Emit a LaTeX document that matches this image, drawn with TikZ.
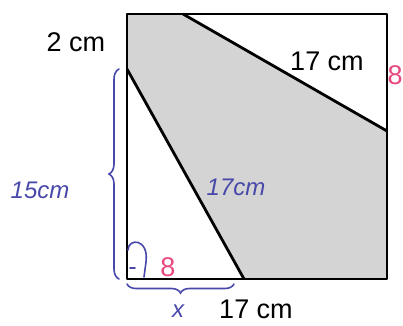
\documentclass[tikz,border=0pt]{standalone}
\usepackage{fontspec}
\setsansfont{Liberation Sans}
\usetikzlibrary{decorations.pathreplacing}
\definecolor{penblue}{RGB}{72,72,170}
\definecolor{penred}{RGB}{232,72,125}
\definecolor{papergray}{RGB}{212,212,212}
\tikzset{
  edge/.style={line width=2.8pt, line join=round},
  printed/.style={font=\sffamily\fontsize{27}{27}\selectfont},
  bluepen/.style={draw=penblue, line width=1.6pt, line cap=round},
  bluetext/.style={text=penblue, font=\sffamily\itshape\fontsize{24}{24}\selectfont},
  redtext/.style={text=penred, font=\sffamily\fontsize{27}{27}\selectfont}
}
\begin{document}
\begin{tikzpicture}[x=1pt, y=-1pt]
  \useasboundingbox (0,0) rectangle (403,325);
  % corners of the square
  \coordinate (tl) at (127,14);
  \coordinate (tr) at (387,14);
  \coordinate (br) at (387,279);
  \coordinate (bl) at (127,279);
  % cut points on the sides
  \coordinate (ptop) at (183,14);
  \coordinate (pright) at (387,131);
  \coordinate (pbottom) at (244,279);
  \coordinate (pleft) at (127,69);
  % shaded part
  \fill[papergray] (tl) -- (ptop) -- (pright) -- (br) -- (pbottom) -- (pleft) -- cycle;
  \draw[edge] (tl) rectangle (br);
  \draw[edge] (ptop) -- (pright);
  \draw[edge] (pleft) -- (pbottom);
  % printed labels
  \node[printed] (two) at (76,42) {2 cm};
  \node[printed] (hyptop) at (327,61) {17 cm};
  \node[printed] (side) at (256,309) {17 cm};
  % handwritten notes
  \draw[bluepen, decorate, decoration={brace, amplitude=10pt}] (119,279) -- (119,69);
  \draw[bluepen, decorate, decoration={brace, amplitude=9pt}] (234,284) -- (127,284);
  \node[bluetext] (fifteen) at (40,190) {15cm};
  \node[bluetext] (hyp) at (236,187) {17cm};
  \node[bluetext] (x) at (178,311) {x};
  \draw[bluepen] (128,250) .. controls (128,238) and (149,238) .. (146,262) -- (144,277);
  \draw[bluepen] (130,268) -- (135,268);
  \node[redtext] (eight) at (168,267) {8};
  \node[redtext] (eightr) at (395,75) {8};
\end{tikzpicture}
\end{document}
